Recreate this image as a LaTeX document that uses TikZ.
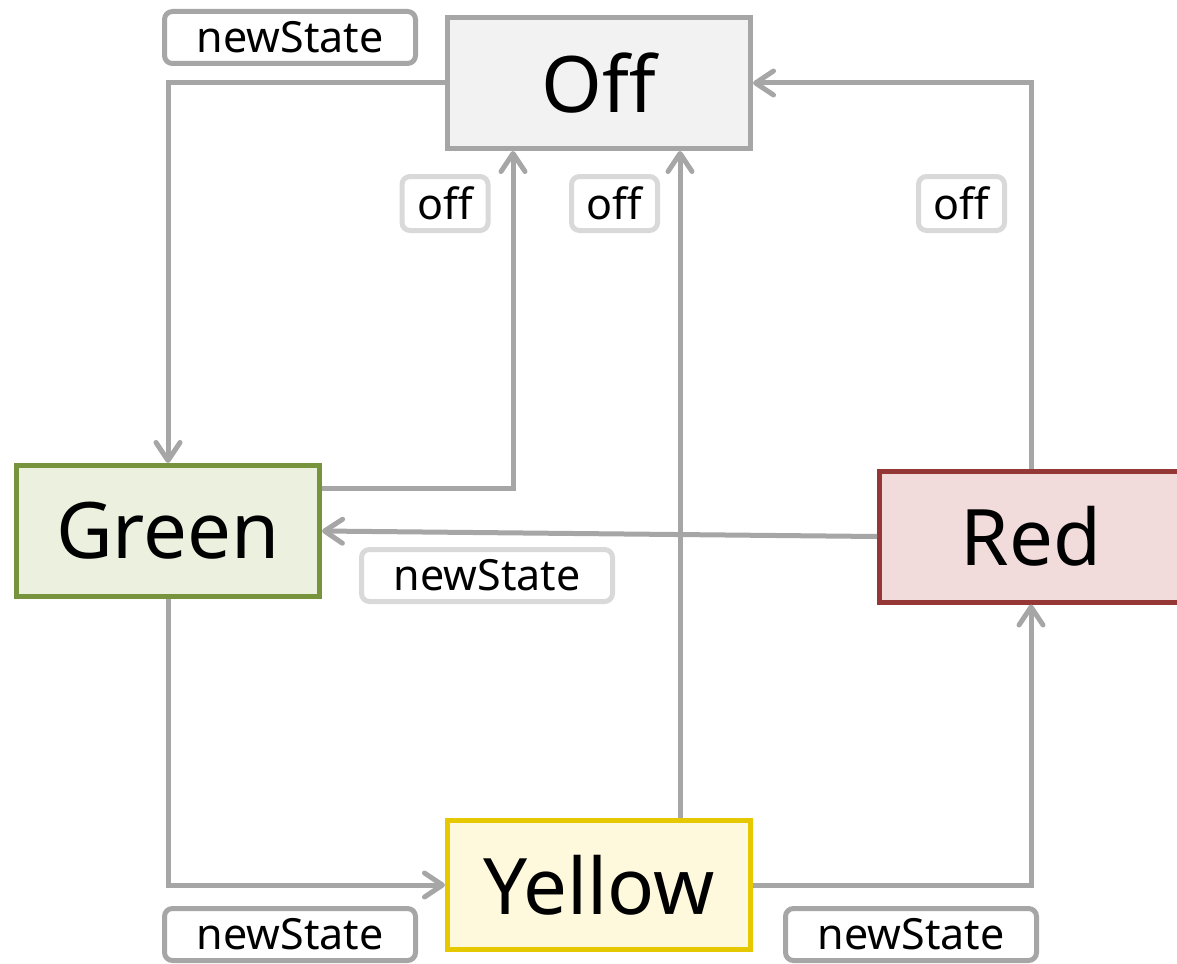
\documentclass[tikz,border=0pt]{standalone}
\usepackage{fontspec}
\setmainfont{Noto Sans}
\usetikzlibrary{arrows.meta}
\definecolor{linegray}{HTML}{A6A6A6}
\definecolor{palegray}{HTML}{D9D9D9}
\definecolor{offfill}{HTML}{F2F2F2}
\definecolor{greenfill}{HTML}{EBF0DF}
\definecolor{greenline}{HTML}{77933C}
\definecolor{redfill}{HTML}{F2DCDB}
\definecolor{redline}{HTML}{953735}
\definecolor{yellowfill}{HTML}{FEF9DC}
\definecolor{yellowline}{HTML}{E6C800}
\tikzset{
  state/.style={rectangle, line width=5pt, minimum width=303pt, minimum height=131pt,
    inner sep=0pt, font=\fontsize{78}{80}\selectfont},
  conn/.style={draw=linegray, line width=5pt,
    -{Straight Barb[length=18pt, width=24pt, round]}},
  tag/.style={rectangle, rounded corners=8pt, line width=5pt, fill=white,
    inner sep=0pt, minimum height=52pt, font=\fontsize{43}{45}\selectfont},
  tagdark/.style={tag, draw=linegray},
  taglight/.style={tag, draw=palegray},
}
\begin{document}
\begin{tikzpicture}[x=1pt,y=-1pt]
\useasboundingbox (0,0) rectangle (1177,963);

% states
\node[state, draw=linegray, fill=offfill] (off) at (599,83) {Off};
\node[state, draw=greenline, fill=greenfill] (green) at (168,531) {Green};
\node[state, draw=redline, fill=redfill] (red) at (1031,536.5) {Red};
\node[state, draw=yellowline, fill=yellowfill, minimum height=129pt] (yellow) at (599,885) {Yellow};

% transitions
\draw[conn] (off.west) -| (green.north);
\draw[conn] ([yshift=43pt]green.east) -| ([xshift=-86pt]off.south);
\draw[conn] ([xshift=81pt]yellow.north) -- ([xshift=81pt]off.south);
\draw[conn] (red.north) |- (off.east);
\draw[conn] (red.west) -- (green.east);
\draw[conn] (green.south) |- (yellow.west);
\draw[conn] (yellow.east) -| (red.south);

% event labels
\node[tagdark, minimum width=251pt] (tOffGreen) at (290,37.5) {newState};
\node[taglight, minimum width=86pt, minimum height=54pt] (tGreenOff) at (445,203.5) {off};
\node[taglight, minimum width=86pt, minimum height=54pt] (tYellowOff) at (614.5,203.5) {off};
\node[taglight, minimum width=86pt, minimum height=54pt] (tRedOff) at (961.5,203.5) {off};
\node[taglight, minimum width=251pt] (tRedGreen) at (487,575.5) {newState};
\node[tagdark, minimum width=251pt] (tGreenYellow) at (290,934.5) {newState};
\node[tagdark, minimum width=251pt] (tYellowRed) at (911,934.5) {newState};
\end{tikzpicture}
\end{document}
